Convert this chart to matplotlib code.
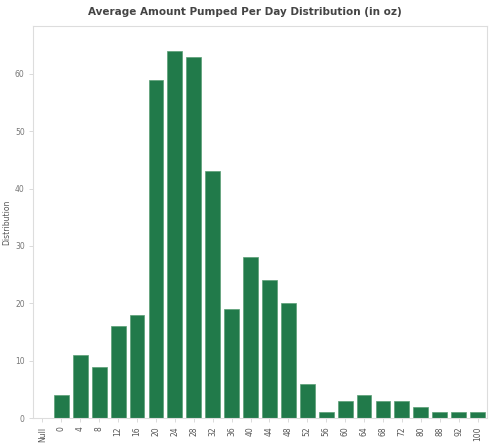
import matplotlib
matplotlib.use("Agg")
import matplotlib.pyplot as plt
import numpy as np

categories = ["Null", "0", "4", "8", "12", "16", "20", "24", "28", "32", "36", "40",
              "44", "48", "52", "56", "60", "64", "68", "72", "80", "88", "92", "100"]
counts = [0, 4, 11, 9, 16, 18, 59, 64, 63, 43, 19, 28,
          24, 20, 6, 1, 3, 4, 3, 3, 2, 1, 1, 1]
y_ticks = [0, 10, 20, 30, 40, 50, 60]

fig = plt.figure(figsize=(5.0, 4.43), dpi=100)
ax = fig.add_axes([0.066, 0.056, 0.908, 0.885])

x = np.arange(len(categories))
ax.bar(x, counts, width=0.78, color="#217a4a", edgecolor="#5a9f76", linewidth=0.5)

ax.set_xlim(-0.5, len(categories) - 0.5)
ax.set_ylim(0, 68.3)
ax.set_xticks(x)
ax.set_xticklabels(categories, rotation=90, fontsize=5.5, color="#555555")
ax.set_yticks(y_ticks)
ax.set_yticklabels([str(v) for v in y_ticks], fontsize=5.5, color="#777777")
ax.tick_params(axis="both", length=3, width=0.5, color="#cccccc", pad=3)
ax.set_ylabel("Distribution", fontsize=5.5, color="#555555")
ax.yaxis.set_label_coords(-0.048, 0.5)

for side in ["top", "right", "left", "bottom"]:
    ax.spines[side].set_color("#dddddd")
    ax.spines[side].set_linewidth(0.8)

fig.text(0.49, 0.972, "Average Amount Pumped Per Day Distribution (in oz)",
         ha="center", va="center", fontsize=7.5, fontweight="bold", color="#444444")

fig.savefig("out.png", dpi=100)
